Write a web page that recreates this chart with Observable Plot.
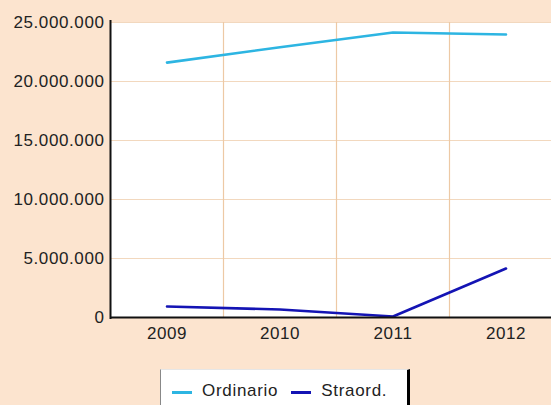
<!DOCTYPE html>
<html><head><meta charset="utf-8">
<script src="https://cdn.jsdelivr.net/npm/d3@7"></script>
<script src="https://cdn.jsdelivr.net/npm/@observablehq/plot@0.6"></script>
<style>
body{margin:0;background:#FCE4CF;width:551px;height:405px;overflow:hidden;font-family:"Liberation Sans",Arial,sans-serif;position:relative}
#chart svg text{letter-spacing:0.6px}
#legend{position:absolute;left:160px;top:369px;width:250px;height:50px;background:#fff;border-left:1px solid #888;border-top:1px solid #e6e6e6;border-right:3px solid #000;display:flex;align-items:flex-start;padding-top:11px;box-sizing:border-box;font-size:17px;letter-spacing:0.7px;color:#222}
.sw{display:inline-block;width:20px;height:3px;margin-top:10px}
.it{display:flex;align-items:flex-start}
.tx{margin-left:10px}
</style></head><body><div id="chart"></div>
<div id="legend"></div>
<script>
const years=[2009,2010,2011,2012];
const ordinario=[21600000,22900000,24150000,23980000];
const straord=[930000,680000,80000,4150000];
const yTicks=[0,5000000,10000000,15000000,20000000,25000000];
const seriesNames=["Ordinario","Straord."];
const colors=["#2DB5E2","#1414B4"];
const data=[
  ...years.map((y,i)=>({year:y,value:ordinario[i],series:seriesNames[0]})),
  ...years.map((y,i)=>({year:y,value:straord[i],series:seriesNames[1]}))
];
const fmt=d=>d3.format(",")(d).replace(/,/g,".");
const chart=Plot.plot({
  width:551,height:350,marginTop:22,marginBottom:33,marginLeft:110,marginRight:0,
  style:{background:"transparent",fontFamily:"'Liberation Sans',Arial,sans-serif",fontSize:"17px",color:"#222",overflow:"visible"},
  x:{domain:[2008.5,2012.5],range:[110,562],ticks:years,tickFormat:d=>String(d),tickSize:0,tickPadding:9,label:null},
  y:{domain:[0,25000000],ticks:yTicks,tickFormat:fmt,tickSize:0,tickPadding:6,label:null},
  color:{domain:seriesNames,range:colors},
  marks:[
    Plot.frame({fill:"white",stroke:null}),
    Plot.ruleY(yTicks.slice(1),{stroke:"#F2D8BE",strokeWidth:1.2}),
    Plot.ruleX(years.slice(1).map(y=>y-0.5),{stroke:"#EDC9A5",strokeWidth:1.2}),
    Plot.line(data,{x:"year",y:"value",stroke:"series",strokeWidth:2.6}),
    Plot.ruleX([2008.5],{stroke:"#111",strokeWidth:2,insetTop:-2,insetBottom:-2}),
    Plot.ruleY([0],{stroke:"#111",strokeWidth:2})
  ]
});
document.getElementById("chart").appendChild(chart);
const lg=document.getElementById("legend");
seriesNames.forEach((s,i)=>{
  const it=document.createElement("div");it.className="it";
  it.style.marginLeft=i===0?"11px":"13px";
  it.innerHTML=`<span class="sw" style="background:${colors[i]}"></span><span class="tx">${s}</span>`;
  lg.appendChild(it);
});
</script></body></html>
